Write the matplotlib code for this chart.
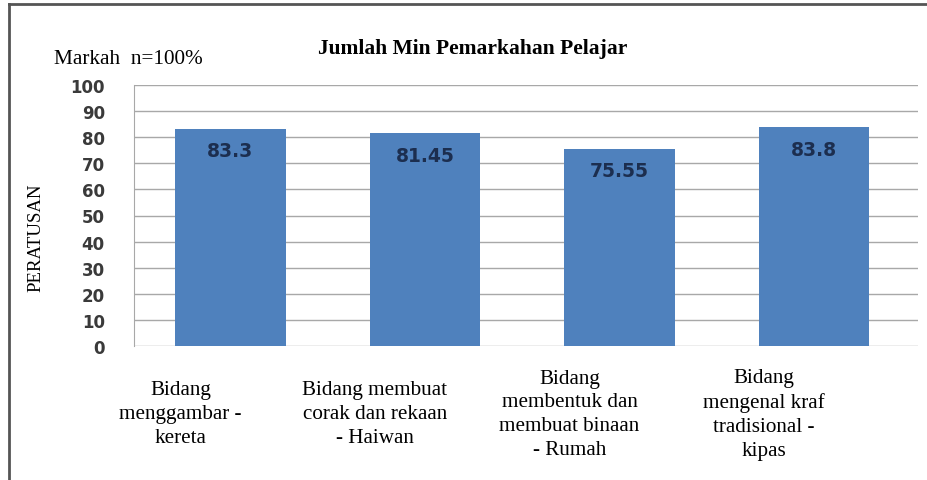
import matplotlib.pyplot as plt
from matplotlib.lines import Line2D
from matplotlib.transforms import offset_copy
import numpy as np

# data
categories = ['Bidang\nmenggambar -\nkereta',
              'Bidang membuat\ncorak dan rekaan\n- Haiwan',
              'Bidang\nmembentuk dan\nmembuat binaan\n- Rumah',
              'Bidang\nmengenal kraf\ntradisional -\nkipas']
values = [83.3, 81.45, 75.55, 83.8]
value_labels = ['83.3', '81.45', '75.55', '83.8']
yticks = [0, 10, 20, 30, 40, 50, 60, 70, 80, 90, 100]

serif = 'Liberation Serif'

fig = plt.figure(figsize=(9.27, 4.81), dpi=100)
ax = fig.add_axes([134/927, 1-347/481, (918-134)/927, (347-86)/481])

x = np.arange(len(values))
ax.bar(x, values, width=0.57, color='#4F81BD', zorder=3)
for xi, v, lab in zip(x, values, value_labels):
    ax.text(xi, v - 8.4, lab, ha='center', va='center', fontsize=13.5,
            fontweight='bold', color='#1C2E4F', zorder=4)

ax.set_xlim(-0.496, 3.535)
ax.set_ylim(0, 100)
ax.tick_params(axis='y', length=0, pad=21)
ax.set_yticks(yticks)
ax.set_yticklabels([str(t) for t in yticks], fontsize=12, fontweight='bold', color='#3A3A3A')
ax.yaxis.grid(True, color='#A8A8A8', lw=1, zorder=0)

# category labels sit a little left of the bars, centred vertically
ax.set_xticks(x)
ax.tick_params(axis='x', length=0, labelbottom=False)
lab_tr = offset_copy(ax.get_xaxis_transform(), fig=fig, x=-50, y=0, units='dots')
for xi, cat in zip(x, categories):
    ax.text(xi, -0.26, cat, transform=lab_tr, family=serif,
            fontsize=15.2, ha='center', va='center', linespacing=1.35)

for s in ['top', 'right', 'bottom']:
    ax.spines[s].set_visible(False)
ax.spines['left'].set_color('#A8A8A8')

fig.text(36/927, 1-238/481, 'PERATUSAN', family=serif, fontsize=13.5, rotation=90,
         ha='center', va='center')
fig.text(54/927, 1-60/481, 'Markah  n=100%', family=serif, fontsize=15.3,
         ha='left', va='center')
fig.text(472.5/927, 1-49/481, 'Jumlah Min Pemarkahan Pelajar', family=serif, fontsize=15.5,
         fontweight='bold', ha='center', va='center')

# outer frame (top and left edges only)
fig.add_artist(Line2D([9/927, 1], [1-5/481, 1-5/481], color='#555555', lw=2))
fig.add_artist(Line2D([9/927, 9/927], [0, 1-5/481], color='#555555', lw=2))

fig.savefig('out.png', dpi=100)
